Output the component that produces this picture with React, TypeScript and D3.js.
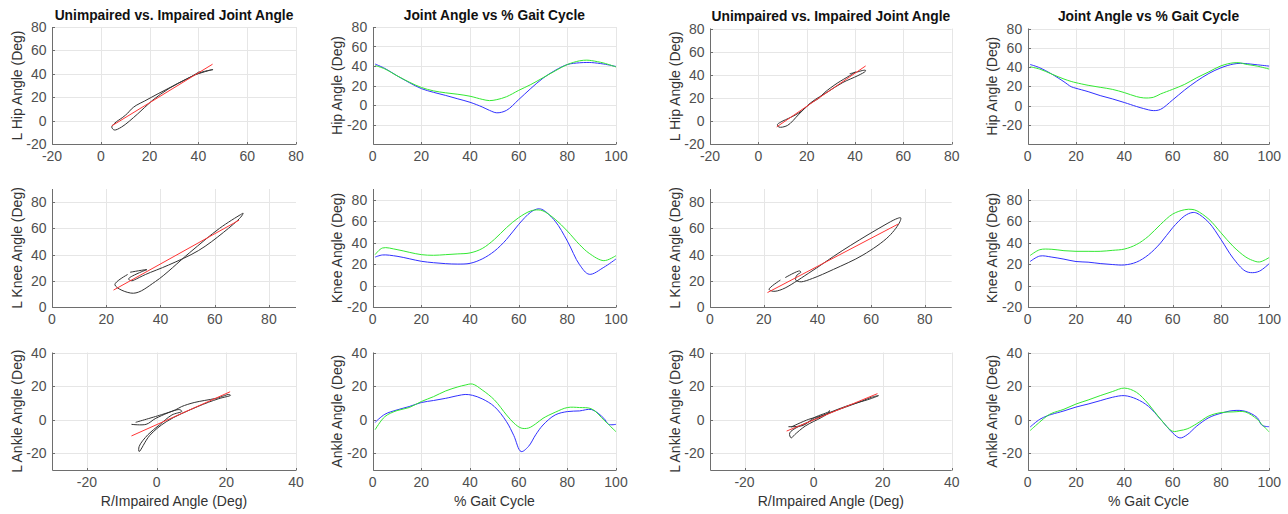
import React from "react";
import * as d3 from "d3";

const FONT = "'Liberation Sans', Arial, Helvetica, sans-serif";

// ---------- Left subject (columns 1-2) ----------
const T_LH = [1, 5, 10, 15, 20, 25, 30, 35, 40, 45, 48, 51, 55, 60, 65, 70, 75, 80, 85, 88, 90, 95, 100];
const LH_UNIMP = [42, 37.5, 30, 23, 16.8, 13, 9.8, 6.3, 2.8, -2, -5.5, -8, -5.5, 5.5, 17, 27.5, 35.5, 41.5, 43.3, 43.6, 43.5, 42, 39.5];
const LH_IMP = [40.5, 37, 30, 23.5, 18, 14.5, 12.5, 11, 9, 5.8, 4.5, 5.5, 8.5, 15, 21, 28, 35, 41.5, 45.3, 46, 45.5, 43, 39];

const T_LK = [1, 4, 10, 15, 20, 25, 30, 35, 40, 45, 50, 55, 60, 65, 68, 70, 75, 80, 85, 89, 95, 100];
const LK_UNIMP = [26.5, 28.5, 27.3, 25, 22.6, 21.3, 20.4, 20, 20.7, 24.8, 32, 43, 57, 68.5, 71.5, 70.5, 60, 41.5, 19.5, 10.5, 17, 24.8];
const LK_IMP = [28.8, 35, 33.5, 31, 28.8, 28.2, 28.8, 29.5, 30.4, 34.5, 43, 54, 63.3, 69.6, 70.5, 69.6, 61.8, 50.8, 38.2, 30, 23.2, 27.9];

const T_LA = [1, 5, 10, 15, 20, 25, 30, 35, 38, 41, 45, 50, 55, 58, 61, 64, 67, 70, 75, 80, 85, 90, 95, 97, 100];
const LA_UNIMP = [-1.6, 3.2, 5.8, 7.8, 10.2, 11.4, 12.7, 14.3, 15, 14.5, 12.4, 7.8, -1.2, -9.5, -19, -16, -9, -3.2, 2.8, 4.8, 5.2, 6, 0.8, -2.8, -2.8];
const LA_IMP = [-6, 1.8, 5.4, 7.2, 10.8, 13.7, 17.1, 19.5, 20.6, 21.2, 17.7, 11.8, 2.8, -2, -5, -5, -2.5, 0.8, 4.4, 7.2, 7.2, 6.4, -0.2, -3, -7.2];

// ---------- Right subject (columns 3-4) ----------
const T_RH = [1, 5, 10, 15, 18, 20, 25, 30, 35, 40, 45, 48, 52, 55, 60, 65, 70, 75, 80, 85, 88, 90, 95, 100];
const RH_UNIMP = [42.6, 39.2, 32.6, 24.7, 19.5, 17.9, 14.4, 10.3, 6.9, 3.1, -1, -3.2, -5.3, -4, 5.8, 16.2, 25.4, 33.3, 39.2, 43, 43.8, 43.6, 42.3, 40.9];
const RH_IMP = [40.2, 37.8, 32.6, 27.5, 25, 23.7, 21, 18.9, 16.8, 13.4, 9.3, 7.9, 8.5, 12, 16.8, 22, 28.9, 35, 41.2, 44.3, 44.3, 43, 40.9, 37.8];

const T_RK = [1, 5, 10, 15, 20, 25, 30, 35, 40, 45, 50, 55, 60, 65, 68, 70, 75, 80, 85, 90, 93, 96, 100];
const RK_UNIMP = [22.4, 27.5, 26.5, 24.6, 22.4, 21.8, 20.5, 19.6, 19.2, 21.8, 28.7, 39.7, 53.9, 65, 68, 67.5, 58.7, 42.9, 25.6, 13.6, 12, 13.5, 20.5];
const RK_IMP = [28, 33.4, 33.8, 32.5, 31.9, 31.9, 31.9, 32.8, 34, 38.2, 46, 57, 66.6, 70.7, 71, 69.7, 61.8, 49.2, 36.6, 27, 23.5, 22, 26.2];

const T_RA = [1, 5, 8, 10, 15, 20, 25, 30, 35, 40, 45, 50, 55, 60, 63, 66, 70, 75, 80, 85, 90, 95, 97, 100];
const RA_UNIMP = [-4.4, 0.2, 2.2, 3.2, 5.2, 7.5, 9.3, 11.3, 13.3, 14.3, 12.3, 7.9, 0.2, -7.9, -10.9, -9, -3.8, 1.2, 3.8, 5.4, 5, 1.2, -3.4, -4.2];
const RA_IMP = [-6.5, -1.4, 2.2, 3.8, 6.2, 9.3, 11.7, 14.3, 16.7, 18.8, 16.3, 9.3, 0.2, -6.9, -6.5, -5.5, -2.4, 2.2, 4.2, 4.6, 4.6, 0.2, -3, -7.3];

// ---------- Linear fit lines (x endpoints, y endpoints) ----------
const FIT_LH_X = [4.5, 45.8];
const FIT_LH_Y = [-4.5, 48.2];
const FIT_LK_X = [22.7, 69];
const FIT_LK_Y = [12.9, 66.2];
const FIT_LA_X = [-7.2, 21.1];
const FIT_LA_Y = [-9.7, 16.6];
const FIT_RH_X = [7.6, 44.4];
const FIT_RH_Y = [-5.2, 47.6];
const FIT_RK_X = [21.4, 70.1];
const FIT_RK_Y = [11, 63.3];
const FIT_RA_X = [-7.8, 18.5];
const FIT_RA_Y = [-6.8, 15.5];

// ---------- Axes settings ----------
const HIP_SCATTER_DOMAIN = [-20, 80];
const HIP_SCATTER_TICKS = [-20, 0, 20, 40, 60, 80];
const KNEE_SCATTER_DOMAIN = [0, 90];
const KNEE_TICKS = [0, 20, 40, 60, 80];
const ANKLE_DOMAIN = [-30, 40];
const ANKLE_TICKS = [-20, 0, 20, 40];
const GAIT_DOMAIN = [0, 100];
const GAIT_TICKS = [0, 20, 40, 60, 80, 100];
const HIP_TS_DOMAIN = [-40, 80];
const HIP_TS_TICKS = [-20, 0, 20, 40, 60, 80];
const KNEE_TS_DOMAIN = [-20, 90];
const KNEE_TS_TICKS = [-20, 0, 20, 40, 60, 80];

const TITLE_SCATTER = "Unimpaired vs. Impaired Joint Angle";
const TITLE_TS = "Joint Angle vs % Gait Cycle";
const XLABEL_SCATTER = "R/Impaired Angle (Deg)";
const XLABEL_TS = "% Gait Cycle";

// layout
const COLS = [
  [52, 296],
  [372.7, 616],
  [710, 951.7],
  [1027.7, 1269.3],
];
const ROWS_LEFT = [
  [27, 144],
  [189, 307],
  [352.5, 470],
];
const ROWS_RIGHT = [
  [28.5, 144],
  [189, 307],
  [352.5, 470],
];

const C_BLUE = "#3030ff";
const C_GREEN = "#33e833";
const C_RED = "#ff3535";
const C_BLACK = "#333333";
const C_GRID = "#e6e6e6";
const C_AXIS = "#6e6e6e";
const C_TICK = "#4f4f4f";
const C_LABEL = "#333333";

type Props = {
  x0: number; x1: number; y0: number; y1: number;
  xd: number[]; yd: number[]; xt: number[]; yt: number[];
  title?: string; ylabel: string; xlabel?: string;
  kind: "scatter" | "series";
  t: number[]; unimp: number[]; imp: number[];
  fitX?: number[]; fitY?: number[];
};

function Panel(p: Props) {
  const xs = d3.scaleLinear().domain(p.xd).range([p.x0, p.x1]);
  const ys = d3.scaleLinear().domain(p.yd).range([p.y1, p.y0]);
  const curve = d3.curveCatmullRom.alpha(0.5);
  const lineGen = d3
    .line<[number, number]>()
    .x((d) => xs(d[0]))
    .y((d) => ys(d[1]))
    .curve(curve);

  const paths: React.ReactNode[] = [];
  if (p.kind === "scatter") {
    const pts = p.imp.map((v, i) => [v, p.unimp[i]] as [number, number]);
    paths.push(<path key="loop" d={lineGen(pts) || ""} fill="none" stroke={C_BLACK} strokeWidth={1} />);
    if (p.fitX && p.fitY) {
      const fit = p.fitX.map((v, i) => [v, p.fitY![i]] as [number, number]);
      const straight = d3.line<[number, number]>().x((d) => xs(d[0])).y((d) => ys(d[1]));
      paths.push(<path key="fit" d={straight(fit) || ""} fill="none" stroke={C_RED} strokeWidth={1} />);
    }
  } else {
    const b = p.t.map((v, i) => [v, p.unimp[i]] as [number, number]);
    const g = p.t.map((v, i) => [v, p.imp[i]] as [number, number]);
    paths.push(<path key="b" d={lineGen(b) || ""} fill="none" stroke={C_BLUE} strokeWidth={1} />);
    paths.push(<path key="g" d={lineGen(g) || ""} fill="none" stroke={C_GREEN} strokeWidth={1} />);
  }

  const ax = Math.round(p.x0) + 0.5;
  const ay = Math.round(p.y1) + 0.5;
  const cx = (p.x0 + p.x1) / 2;
  const cy = (p.y0 + p.y1) / 2;
  const clipId = `clip-${Math.round(p.x0)}-${Math.round(p.y0)}`;

  return (
    <g>
      <defs>
        <clipPath id={clipId}>
          <rect x={p.x0} y={p.y0} width={p.x1 - p.x0} height={p.y1 - p.y0} />
        </clipPath>
      </defs>
      {p.xt.map((v) => (
        <line key={"gx" + v} x1={Math.round(xs(v)) + 0.5} x2={Math.round(xs(v)) + 0.5} y1={p.y0} y2={p.y1} stroke={C_GRID} strokeWidth={1} />
      ))}
      {p.yt.map((v) => (
        <line key={"gy" + v} x1={p.x0} x2={p.x1} y1={Math.round(ys(v)) + 0.5} y2={Math.round(ys(v)) + 0.5} stroke={C_GRID} strokeWidth={1} />
      ))}
      <g clipPath={`url(#${clipId})`}>{paths}</g>
      <line x1={ax} x2={ax} y1={p.y0} y2={ay} stroke={C_AXIS} strokeWidth={1} />
      <line x1={ax} x2={p.x1} y1={ay} y2={ay} stroke={C_AXIS} strokeWidth={1} />
      {p.xt.map((v) => (
        <line key={"tx" + v} x1={Math.round(xs(v)) + 0.5} x2={Math.round(xs(v)) + 0.5} y1={ay} y2={ay - 2.5} stroke={C_AXIS} strokeWidth={1} />
      ))}
      {p.yt.map((v) => (
        <line key={"ty" + v} x1={ax} x2={ax + 2.5} y1={Math.round(ys(v)) + 0.5} y2={Math.round(ys(v)) + 0.5} stroke={C_AXIS} strokeWidth={1} />
      ))}
      {p.xt.map((v) => (
        <text key={"lx" + v} x={xs(v)} y={p.y1 + 17} textAnchor="middle" fontSize={14} fill={C_TICK} fontFamily={FONT}>
          {v}
        </text>
      ))}
      {p.yt.map((v) => (
        <text key={"ly" + v} x={p.x0 - 5.5} y={ys(v) + 5} textAnchor="end" fontSize={14} fill={C_TICK} fontFamily={FONT}>
          {v}
        </text>
      ))}
      <text
        transform={`translate(${p.x0 - 30.5},${cy}) rotate(-90)`}
        textAnchor="middle"
        fontSize={14}
        fill={C_LABEL}
        fontFamily={FONT}
      >
        {p.ylabel}
      </text>
      {p.title && (
        <text x={cx} y={p.y0 - 7.5} textAnchor="middle" fontSize={13.8} fontWeight="bold" fill="#111" fontFamily={FONT}>
          {p.title}
        </text>
      )}
      {p.xlabel && (
        <text x={cx} y={p.y1 + 36} textAnchor="middle" fontSize={14} fill={C_LABEL} fontFamily={FONT}>
          {p.xlabel}
        </text>
      )}
    </g>
  );
}

type Joint = {
  t: number[]; unimp: number[]; imp: number[]; fitX: number[]; fitY: number[];
  sd: number[]; st: number[]; td: number[]; tt: number[];
  sLabel: string; tLabel: string;
};

const LEFT_JOINTS: Joint[] = [
  { t: T_LH, unimp: LH_UNIMP, imp: LH_IMP, fitX: FIT_LH_X, fitY: FIT_LH_Y, sd: HIP_SCATTER_DOMAIN, st: HIP_SCATTER_TICKS, td: HIP_TS_DOMAIN, tt: HIP_TS_TICKS, sLabel: "L Hip Angle (Deg)", tLabel: "Hip Angle (Deg)" },
  { t: T_LK, unimp: LK_UNIMP, imp: LK_IMP, fitX: FIT_LK_X, fitY: FIT_LK_Y, sd: KNEE_SCATTER_DOMAIN, st: KNEE_TICKS, td: KNEE_TS_DOMAIN, tt: KNEE_TS_TICKS, sLabel: "L Knee Angle (Deg)", tLabel: "Knee Angle (Deg)" },
  { t: T_LA, unimp: LA_UNIMP, imp: LA_IMP, fitX: FIT_LA_X, fitY: FIT_LA_Y, sd: ANKLE_DOMAIN, st: ANKLE_TICKS, td: ANKLE_DOMAIN, tt: ANKLE_TICKS, sLabel: "L Ankle Angle (Deg)", tLabel: "Ankle Angle (Deg)" },
];
const RIGHT_JOINTS: Joint[] = [
  { t: T_RH, unimp: RH_UNIMP, imp: RH_IMP, fitX: FIT_RH_X, fitY: FIT_RH_Y, sd: HIP_SCATTER_DOMAIN, st: HIP_SCATTER_TICKS, td: HIP_TS_DOMAIN, tt: HIP_TS_TICKS, sLabel: "L Hip Angle (Deg)", tLabel: "Hip Angle (Deg)" },
  { t: T_RK, unimp: RK_UNIMP, imp: RK_IMP, fitX: FIT_RK_X, fitY: FIT_RK_Y, sd: KNEE_SCATTER_DOMAIN, st: KNEE_TICKS, td: KNEE_TS_DOMAIN, tt: KNEE_TS_TICKS, sLabel: "L Knee Angle (Deg)", tLabel: "Knee Angle (Deg)" },
  { t: T_RA, unimp: RA_UNIMP, imp: RA_IMP, fitX: FIT_RA_X, fitY: FIT_RA_Y, sd: ANKLE_DOMAIN, st: ANKLE_TICKS, td: ANKLE_DOMAIN, tt: ANKLE_TICKS, sLabel: "L Ankle Angle (Deg)", tLabel: "Ankle Angle (Deg)" },
];

export default function App() {
  const panels: React.ReactNode[] = [];
  [LEFT_JOINTS, RIGHT_JOINTS].forEach((joints, side) => {
    const rows = side === 0 ? ROWS_LEFT : ROWS_RIGHT;
    const sc = COLS[side * 2];
    const tc = COLS[side * 2 + 1];
    joints.forEach((j, r) => {
      const [y0, y1] = rows[r];
      panels.push(
        <Panel
          key={`s${side}${r}`}
          kind="scatter"
          x0={sc[0]} x1={sc[1]} y0={y0} y1={y1}
          xd={j.sd} yd={j.sd} xt={j.st} yt={j.st}
          title={r === 0 ? TITLE_SCATTER : undefined}
          ylabel={j.sLabel}
          xlabel={r === 2 ? XLABEL_SCATTER : undefined}
          t={j.t} unimp={j.unimp} imp={j.imp} fitX={j.fitX} fitY={j.fitY}
        />
      );
      panels.push(
        <Panel
          key={`t${side}${r}`}
          kind="series"
          x0={tc[0]} x1={tc[1]} y0={y0} y1={y1}
          xd={GAIT_DOMAIN} yd={j.td} xt={GAIT_TICKS} yt={j.tt}
          title={r === 0 ? TITLE_TS : undefined}
          ylabel={j.tLabel}
          xlabel={r === 2 ? XLABEL_TS : undefined}
          t={j.t} unimp={j.unimp} imp={j.imp}
        />
      );
    });
  });
  return (
    <svg
      width={1288}
      height={514}
      viewBox="0 0 1288 514"
      style={{ position: "absolute", left: 0, top: 0, background: "#fff" }}
    >
      <rect x={0} y={0} width={1288} height={514} fill="#fff" />
      {panels}
    </svg>
  );
}
